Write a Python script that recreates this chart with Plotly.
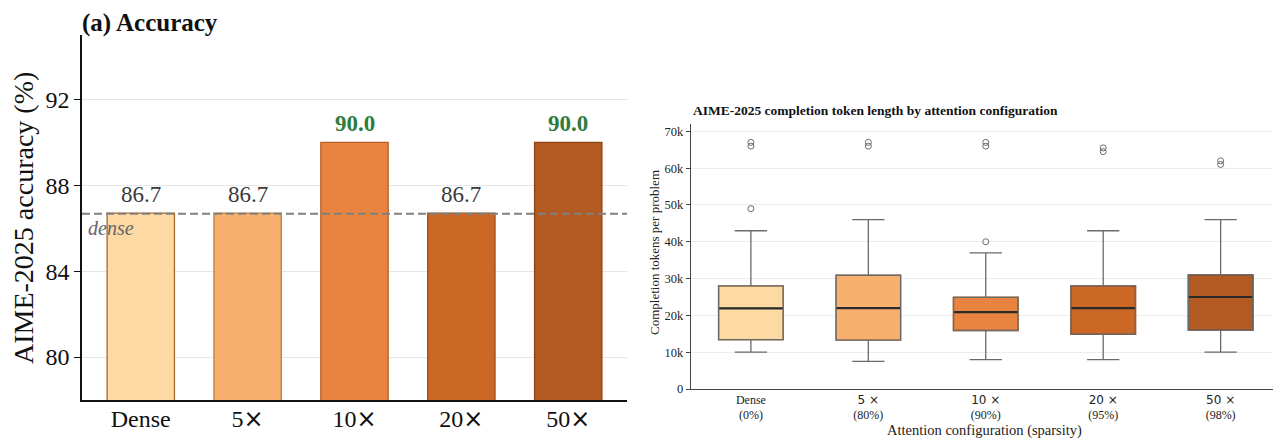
import plotly.graph_objects as go

# ---------------- data ----------------
configs = ["Dense", "5×", "10×", "20×", "50×"]
accuracy = [86.7, 86.7, 90.0, 86.7, 90.0]
dense_baseline = 86.67

box_tick_labels = ["Dense<br>(0%)", "5 ×<br>(80%)", "10 ×<br>(90%)", "20 ×<br>(95%)", "50 ×<br>(98%)"]
q1 = [13400, 13300, 15900, 14900, 16000]
median = [21900, 22000, 20900, 22000, 25000]
q3 = [28000, 30900, 24900, 28000, 31000]
lower_whisker = [10000, 7500, 8000, 8000, 10000]
upper_whisker = [43000, 46000, 37000, 43000, 46000]
outliers = [[49000, 66000, 67000], [66000, 67000], [40000, 66000, 67000], [64500, 65500], [61000, 62000]]

fills = ["#FDD9A3", "#F8B06F", "#E8843F", "#CB6826", "#B25A22"]
edges = ["#A8682F", "#C07A3C", "#B4602A", "#9A4E1C", "#8A4418"]
box_edges = ["#C08A55", "#C98A50", "#B86A30", "#A0561F", "#8A4418"]

FONT = "Liberation Serif"
SANS = "DejaVu Sans"

W, H = 1281, 440
OFF = 8  # page body margin offsets the figure by 8px


def px_x(x):
    return (x - OFF) / W


def px_y(y):
    return 1 - (y - OFF) / H


fig = go.Figure()

# ---------------- left: accuracy bars ----------------
xs = list(range(len(configs)))
fig.add_trace(go.Bar(
    x=xs, y=accuracy, width=0.63,
    marker=dict(color=fills, line=dict(color=edges, width=1.3)),
    xaxis="x", yaxis="y", showlegend=False, hoverinfo="skip",
))
fig.add_trace(go.Scatter(
    x=[-0.55, 4.55], y=[dense_baseline, dense_baseline], mode="lines",
    line=dict(color="#808080", width=2, dash="8px,4px"),
    xaxis="x", yaxis="y", showlegend=False, hoverinfo="skip",
))
best = max(accuracy)
for i, v in enumerate(accuracy):
    is_best = v == best
    fig.add_annotation(
        x=i, y=v, xref="x", yref="y", yanchor="bottom", yshift=4,
        text=(f"<b>{v:.1f}</b>" if is_best else f"{v:.1f}"), showarrow=False,
        font=dict(family=FONT, size=23, color="#2E7D3E" if is_best else "#3a3a3a"),
    )
fig.add_annotation(
    x=-0.51, y=dense_baseline, xref="x", yref="y", xanchor="left", yanchor="top", yshift=-1,
    text="<i>dense</i>", showarrow=False, font=dict(family=FONT, size=20, color="#666666"),
)

left_ticktext = [c.replace("×", f'<span style="font-family:{SANS}">×</span>') for c in configs]

# ---------------- right: token-length boxes ----------------
bx = list(range(len(box_tick_labels)))
fig.add_trace(go.Box(
    x=bx, q1=q1, median=median, q3=q3, lowerfence=lower_whisker, upperfence=upper_whisker,
    width=0.55, whiskerwidth=0.5, boxpoints=False,
    line=dict(color="#6a6a6a", width=1.3), fillcolor="rgba(0,0,0,0)",
    xaxis="x2", yaxis="y2", showlegend=False, hoverinfo="skip",
))
fig.add_trace(go.Bar(
    x=bx, y=[b - a for a, b in zip(q1, q3)], base=q1, width=0.55,
    marker=dict(color=fills, line=dict(color=box_edges, width=1.5)),
    xaxis="x2", yaxis="y2", showlegend=False, hoverinfo="skip",
))
mx, my = [], []
for i, m in enumerate(median):
    mx += [i - 0.27, i + 0.27, None]
    my += [m, m, None]
fig.add_trace(go.Scatter(
    x=mx, y=my, mode="lines", line=dict(color="#2a2a2a", width=2.2),
    xaxis="x2", yaxis="y2", showlegend=False, hoverinfo="skip",
))
ox, oy = [], []
for i, pts in enumerate(outliers):
    ox += [i] * len(pts)
    oy += pts
fig.add_trace(go.Scatter(
    x=ox, y=oy, mode="markers",
    marker=dict(symbol="circle-open", size=6, color="#6a6a6a", line=dict(width=1)),
    xaxis="x2", yaxis="y2", showlegend=False, hoverinfo="skip",
))

right_ticktext = []
for t in box_tick_labels:
    top, bot = t.split("<br>")
    if "×" in top:
        top = f'<span style="font-family:{SANS}">{top}</span>'
    right_ticktext.append(f"{top}<br>{bot}")

fig.update_layout(
    width=W, height=H,
    margin=dict(l=0, r=0, t=0, b=0, autoexpand=False),
    paper_bgcolor="white", plot_bgcolor="white",
    barmode="overlay",
    font=dict(family=FONT, color="#222222"),
    xaxis=dict(
        domain=[px_x(82), px_x(627)], range=[-0.55, 4.55], automargin=False,
        tickvals=xs, ticktext=left_ticktext, tickfont=dict(size=24, color="#111"),
        showgrid=False, zeroline=False, showline=True, linecolor="#111", linewidth=1.5,
        ticks="", ticklen=0, ticklabelstandoff=-4,
    ),
    yaxis=dict(
        domain=[px_y(400), px_y(35)], range=[78, 95], automargin=False,
        tickvals=[80, 84, 88, 92], tickfont=dict(size=24, color="#111"),
        showgrid=True, gridcolor="#E6E6E6", gridwidth=1, zeroline=False,
        showline=True, linecolor="#111", linewidth=1.5, ticks="outside", ticklen=6, tickcolor="#111",
    ),
    xaxis2=dict(
        domain=[px_x(691), px_x(1277)], range=[-0.51, 4.48], anchor="y2", automargin=False,
        tickvals=bx, ticktext=right_ticktext, tickfont=dict(size=12, color="#222"),
        showgrid=False, zeroline=False, showline=True, linecolor="#444", linewidth=1.3,
        ticks="", ticklabelstandoff=-1,
    ),
    yaxis2=dict(
        domain=[px_y(389), px_y(124)], range=[0, 72000], anchor="x2", automargin=False,
        tickvals=[0, 10000, 20000, 30000, 40000, 50000, 60000, 70000],
        ticktext=["0", "10k", "20k", "30k", "40k", "50k", "60k", "70k"],
        tickfont=dict(size=12.5, color="#222"),
        showgrid=True, gridcolor="#ECECEC", gridwidth=1, zeroline=False,
        showline=True, linecolor="#444", linewidth=1.3, ticks="outside", ticklen=4, tickcolor="#444",
    ),
)

# axis titles and panel titles as free text placed where the reference puts them
fig.add_annotation(
    x=px_x(23), y=px_y(218), xref="paper", yref="paper", xanchor="center", yanchor="middle",
    text="AIME-2025 accuracy (%)", textangle=-90, showarrow=False,
    font=dict(family=FONT, size=28, color="#111"),
)
fig.add_annotation(
    x=px_x(655), y=px_y(253), xref="paper", yref="paper", xanchor="center", yanchor="middle",
    text="Completion tokens per problem", textangle=-90, showarrow=False,
    font=dict(family=FONT, size=13, color="#222"),
)
fig.add_annotation(
    x=px_x(984), y=px_y(430), xref="paper", yref="paper", xanchor="center", yanchor="middle",
    text="Attention configuration (sparsity)", showarrow=False,
    font=dict(family=FONT, size=14.5, color="#222"),
)
fig.add_annotation(
    x=px_x(81), y=px_y(8), xref="paper", yref="paper", xanchor="left", yanchor="top",
    borderpad=0, text="<b>(a) Accuracy</b>", showarrow=False,
    font=dict(family=FONT, size=25, color="#111"),
)
fig.add_annotation(
    x=px_x(691), y=px_y(110), xref="paper", yref="paper", xanchor="left", yanchor="middle",
    text="<b>AIME-2025 completion token length by attention configuration</b>", showarrow=False,
    font=dict(family=FONT, size=13.5, color="#111"),
)

fig.write_html("out.html")
